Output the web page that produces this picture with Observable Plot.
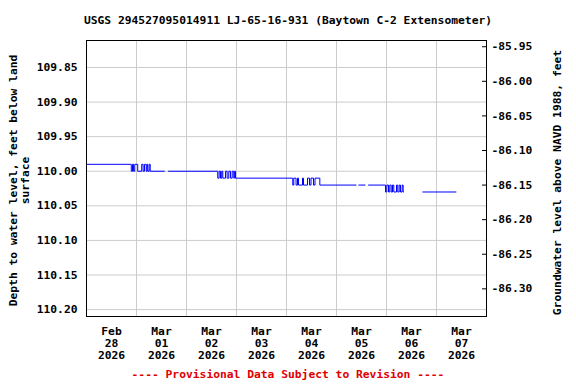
<!DOCTYPE html>
<html>
<head>
<meta charset="utf-8">
<script src="https://cdn.jsdelivr.net/npm/d3@7"></script>
<script src="https://cdn.jsdelivr.net/npm/@observablehq/plot@0.6"></script>
<style>
  html, body { margin: 0; padding: 0; background: #fff; }
  body { width: 576px; height: 384px; overflow: hidden; font-family: "DejaVu Sans Mono", monospace; font-weight: bold; }
  #title { height: 32px; box-sizing: border-box; padding-top: 14px; font-size: 11.3px; line-height: 14px; text-align: center; color: #000; white-space: pre; }
  #chart svg { display: block; }
  #caption { height: 22px; box-sizing: border-box; padding-top: 6px; font-size: 11.3px; line-height: 14px; text-align: center; color: #e00000; white-space: pre; }
</style>
</head>
<body>
<div id="title">USGS 294527095014911 LJ-65-16-931 (Baytown C-2 Extensometer)</div>
<div id="chart"></div>
<div id="caption">---- Provisional Data Subject to Revision ----</div>
<script>
// Observation change points (UTC), depth to water (ft below land surface); null = gap
const obsTime = [
  "2026-02-28T00:00","2026-02-28T21:30","2026-02-28T22:05","2026-02-28T22:35","2026-02-28T23:10",
  "2026-03-01T00:35","2026-03-01T02:30","2026-03-01T03:10","2026-03-01T03:50","2026-03-01T04:40",
  "2026-03-01T05:05","2026-03-01T05:25","2026-03-01T06:05","2026-03-01T06:35","2026-03-01T13:26",
  "2026-03-01T13:27",
  "2026-03-01T15:22","2026-03-02T15:00","2026-03-02T15:40","2026-03-02T16:20","2026-03-02T16:55",
  "2026-03-02T17:25","2026-03-02T18:43","2026-03-02T19:30","2026-03-02T20:18","2026-03-02T21:07",
  "2026-03-02T21:56","2026-03-02T22:42","2026-03-02T23:06","2026-03-02T23:31",
  "2026-03-04T03:00","2026-03-04T03:30","2026-03-04T04:35","2026-03-04T05:17","2026-03-04T05:46",
  "2026-03-04T07:41","2026-03-04T08:10","2026-03-04T10:05","2026-03-04T11:02","2026-03-04T11:46",
  "2026-03-04T12:58","2026-03-04T13:41","2026-03-04T16:00","2026-03-05T09:28",
  "2026-03-05T09:29",
  "2026-03-05T10:42","2026-03-05T13:46",
  "2026-03-05T13:47",
  "2026-03-05T15:22","2026-03-05T23:31","2026-03-06T00:09","2026-03-06T00:58","2026-03-06T01:35",
  "2026-03-06T02:15","2026-03-06T02:53","2026-03-06T03:30","2026-03-06T04:48","2026-03-06T05:25",
  "2026-03-06T06:05","2026-03-06T06:43","2026-03-06T07:31","2026-03-06T08:00","2026-03-06T08:19",
  "2026-03-06T08:20",
  "2026-03-06T17:25","2026-03-07T09:27"
];
const obsDepth = [
  109.99,110.00,109.99,110.00,109.99,
  110.00,109.99,110.00,109.99,110.00,
  109.99,110.00,109.99,110.00,110.00,
  null,
  110.00,110.01,110.00,110.01,110.00,
  110.01,110.00,110.01,110.00,110.01,
  110.00,110.01,110.00,110.01,
  110.02,110.01,110.02,110.01,110.02,
  110.01,110.02,110.01,110.02,110.01,
  110.02,110.01,110.02,110.02,
  null,
  110.02,110.02,
  null,
  110.02,110.03,110.02,110.03,110.02,
  110.03,110.02,110.03,110.02,110.03,
  110.02,110.03,110.02,110.03,110.03,
  null,
  110.03,110.03
];

// Axis ticks
const leftTicks = [109.85, 109.90, 109.95, 110.00, 110.05, 110.10, 110.15, 110.20];
const rightTicks = [-85.95, -86.00, -86.05, -86.10, -86.15, -86.20, -86.25, -86.30];
const landSurfaceDatum = 23.87; // NAVD 1988 elevation = datum - depth
const dayLabels = ["2026-02-28","2026-03-01","2026-03-02","2026-03-03","2026-03-04","2026-03-05","2026-03-06","2026-03-07"];
const dayBounds = ["2026-03-01","2026-03-02","2026-03-03","2026-03-04","2026-03-05","2026-03-06","2026-03-07"];
const xDomain = ["2026-02-28", "2026-03-08"];
const yDomain = [109.811, 110.21];

const data = obsTime.map((t, i) => ({time: new Date(t + "Z"), depth: obsDepth[i] == null ? NaN : obsDepth[i]}));
const labelDates = dayLabels.map(d => new Date(d + "T12:00Z"));
const gridDates = dayBounds.map(d => new Date(d + "T00:00Z"));
const rightTickPos = rightTicks.map(r => +(landSurfaceDatum - r).toFixed(4));

const chart = Plot.plot({
  width: 576,
  height: 330,
  marginLeft: 86,
  marginRight: 90,
  marginTop: 8,
  marginBottom: 46,
  style: {fontFamily: "'DejaVu Sans Mono', monospace", fontSize: "11.3px", fontWeight: "bold", color: "#000", background: "#fff"},
  x: {type: "utc", domain: xDomain.map(d => new Date(d + "T00:00Z"))},
  y: {domain: yDomain, reverse: true},
  marks: [
    Plot.gridX(gridDates, {stroke: "#cccccc", strokeOpacity: 1}),
    Plot.gridY(leftTicks, {stroke: "#cccccc", strokeOpacity: 1}),
    Plot.line(data, {x: "time", y: "depth", curve: "step-after", stroke: "#0000ff", strokeWidth: 1}),
    Plot.axisX(labelDates, {tickSize: 0, tickPadding: 10, lineHeight: 1.06, tickFormat: d3.utcFormat("%b\n%d\n%Y"), label: null}),
    Plot.axisY(leftTicks, {anchor: "left", tickSize: 0, tickPadding: 9, tickFormat: d => d.toFixed(2), label: null}),
    Plot.axisY(rightTickPos, {anchor: "right", tickSize: -5, tickPadding: 10, tickFormat: d => (landSurfaceDatum - d).toFixed(2), label: null}),
    Plot.frame({stroke: "#000", strokeOpacity: 1}),
    Plot.text(["Depth to water level, feet below land\nsurface"], {frameAnchor: "left", textAnchor: "middle", lineAnchor: "middle", rotate: -90, dx: -67, dy: 2, lineHeight: 1.06, text: d => d}),
    Plot.text(["Groundwater level above NAVD 1988, feet"], {frameAnchor: "right", textAnchor: "middle", lineAnchor: "middle", rotate: -90, dx: 71, dy: 4, text: d => d})
  ]
});
document.getElementById("chart").appendChild(chart);
</script>
</body>
</html>
